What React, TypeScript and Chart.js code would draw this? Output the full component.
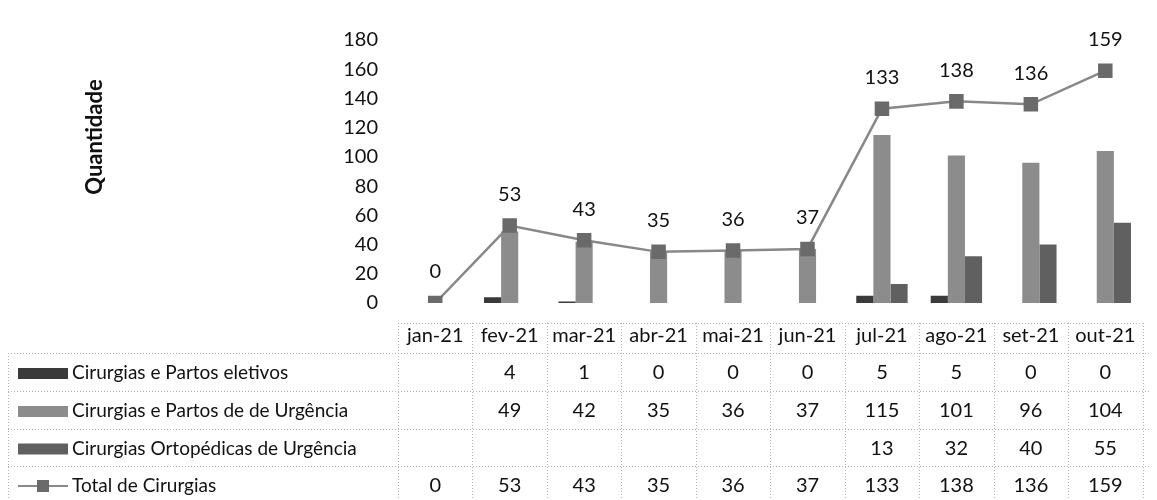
import React, { useEffect, useRef } from "react";
import { Chart, registerables } from "chart.js";

Chart.register(...registerables);

const categories = ["jan-21", "fev-21", "mar-21", "abr-21", "mai-21", "jun-21", "jul-21", "ago-21", "set-21", "out-21"];
const eletivos = [null, 4, 1, 0, 0, 0, 5, 5, 0, 0];
const urgencia = [null, 49, 42, 35, 36, 37, 115, 101, 96, 104];
const ortopedicas = [null, null, null, null, null, null, 13, 32, 40, 55];
const total = [0, 53, 43, 35, 36, 37, 133, 138, 136, 159];
const seriesNames = [
  "Cirurgias e Partos eletivos",
  "Cirurgias e Partos de de Urgência",
  "Cirurgias Ortopédicas de Urgência",
  "Total de Cirurgias",
];
const yAxisTitle = "Quantidade";
const yMin = 0;
const yMax = 180;
const yStep = 20;

const FONT = 'Lato, "Open Sans", sans-serif';
const TEXT = "#111111";
const COLORS = ["#3a3a3a", "#8c8c8c", "#606060", "#888888"];
const MARKER = "#6a6a6a";

const W = 1149;
const H = 492;
const ROWS = [315, 345, 383, 421, 458, 496];

const tablePlugin = {
  id: "dataTable",
  afterDraw(chart: any) {
    const ctx = chart.ctx;
    const xs = chart.scales.x;
    const area = chart.chartArea;
    const half = (xs.getPixelForValue(1) - xs.getPixelForValue(0)) / 2;
    const line = (x1: number, y1: number, x2: number, y2: number) => {
      ctx.beginPath();
      ctx.moveTo(x1, y1);
      ctx.lineTo(x2, y2);
      ctx.stroke();
    };
    ctx.save();
    ctx.strokeStyle = "#b4b4b4";
    ctx.lineWidth = 1;
    ctx.setLineDash([1, 2]);
    line(area.left, ROWS[0] + 0.5, area.right, ROWS[0] + 0.5);
    for (let r = 1; r <= 4; r++) line(0, ROWS[r] + 0.5, W, ROWS[r] + 0.5);
    for (let i = 0; i <= categories.length; i++) {
      const xb = Math.round(xs.getPixelForValue(0) - half + i * 2 * half) + 0.5;
      line(xb, ROWS[0], xb, H);
    }
    line(0.5, ROWS[1], 0.5, H);
    ctx.setLineDash([]);

    const rowsData = [eletivos, urgencia, ortopedicas, total];
    ctx.fillStyle = TEXT;
    ctx.font = `20px ${FONT}`;
    ctx.textAlign = "center";
    ctx.textBaseline = "middle";
    rowsData.forEach((arr, r) => {
      const cy = (ROWS[r + 1] + ROWS[r + 2]) / 2 + 1;
      arr.forEach((v, i) => {
        if (v === null) return;
        ctx.fillText(String(v), xs.getPixelForValue(i), cy);
      });
    });

    // legend keys + labels
    ctx.textAlign = "left";
    ctx.font = `19px ${FONT}`;
    seriesNames.forEach((name, r) => {
      const cy = (ROWS[r + 1] + ROWS[r + 2]) / 2 + 1;
      if (r < 3) {
        ctx.fillStyle = COLORS[r];
        ctx.fillRect(10, cy - 5, 50, 11);
      } else {
        ctx.strokeStyle = COLORS[3];
        ctx.lineWidth = 2;
        line(10, cy, 60, cy);
        ctx.fillStyle = MARKER;
        ctx.fillRect(29, cy - 6, 12, 12);
      }
      ctx.fillStyle = TEXT;
      ctx.fillText(name, 64, cy);
    });

    // y axis title
    ctx.save();
    ctx.translate(87, 129);
    ctx.rotate(-Math.PI / 2);
    ctx.font = `bold 22px ${FONT}`;
    ctx.textAlign = "center";
    ctx.fillText(yAxisTitle, 0, 0);
    ctx.restore();
    ctx.restore();
  },
};

const labelPlugin = {
  id: "totalLabels",
  afterDatasetsDraw(chart: any) {
    const ctx = chart.ctx;
    const meta = chart.getDatasetMeta(3);
    ctx.save();
    ctx.fillStyle = TEXT;
    ctx.font = `20px ${FONT}`;
    ctx.textAlign = "center";
    ctx.textBaseline = "middle";
    meta.data.forEach((pt: any, i: number) => {
      ctx.fillText(String(total[i]), pt.x, pt.y - 31);
    });
    ctx.restore();
  },
};

export default function App() {
  const ref = useRef<HTMLCanvasElement>(null);
  useEffect(() => {
    if (!ref.current) return;
    const chart = new Chart(ref.current, {
      type: "bar",
      data: {
        labels: categories,
        datasets: [
          { label: seriesNames[0], data: eletivos, backgroundColor: COLORS[0], order: 1, barPercentage: 1, categoryPercentage: 0.69 },
          { label: seriesNames[1], data: urgencia, backgroundColor: COLORS[1], order: 1, barPercentage: 1, categoryPercentage: 0.69 },
          { label: seriesNames[2], data: ortopedicas, backgroundColor: COLORS[2], order: 1, barPercentage: 1, categoryPercentage: 0.69 },
          {
            type: "line",
            label: seriesNames[3],
            data: total,
            borderColor: COLORS[3],
            borderWidth: 2.5,
            pointStyle: "rect",
            pointRadius: 8.5,
            pointBackgroundColor: MARKER,
            pointBorderColor: MARKER,
            order: 0,
          } as any,
        ],
      },
      options: {
        animation: false,
        responsive: false,
        devicePixelRatio: 1,
        layout: { padding: { top: 20, right: 0, bottom: 0, left: 0 } },
        plugins: { legend: { display: false }, tooltip: { enabled: false } },
        scales: {
          x: {
            grid: { display: false, drawTicks: false },
            border: { display: false },
            ticks: { color: TEXT, font: { family: FONT, size: 20 }, padding: 21, maxRotation: 0, autoSkip: false },
            afterFit: (s: any) => {
              s.height = 197;
            },
          },
          y: {
            min: yMin,
            max: yMax,
            grid: { display: false, drawTicks: false },
            border: { display: false },
            ticks: { stepSize: yStep, color: TEXT, font: { family: FONT, size: 20 }, padding: 20 },
            afterFit: (s: any) => {
              s.width = 390;
            },
          },
        },
      },
      plugins: [labelPlugin, tablePlugin],
    });
    return () => chart.destroy();
  }, []);
  return (
    <div style={{ width: W, height: H }}>
      <canvas ref={ref} width={W} height={H} style={{ width: W, height: H, display: "block" }} />
    </div>
  );
}
